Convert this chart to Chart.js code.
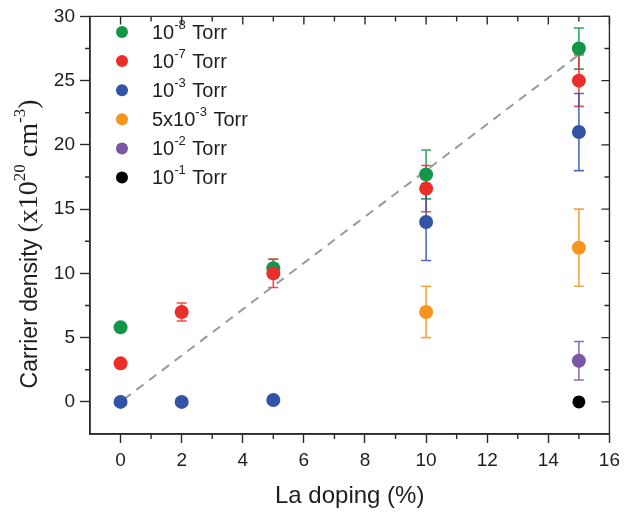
<!DOCTYPE html>
<html>
<head>
<meta charset="utf-8">
<script src="https://cdn.jsdelivr.net/npm/chart.js@4/dist/chart.umd.min.js"></script>
<style>
html,body{margin:0;padding:0;background:#fff;}
canvas{display:block;}
</style>
</head>
<body>
<canvas id="c" width="626" height="516"></canvas>
<script>
// ---- data ----
const dopingLevels = [0, 2, 5, 10, 15];
const torr1e8    = [5.8, null, 10.4, 17.7, 27.5];
const torr1e8Err = [0,   null, 0.7,  1.9,  1.6];
const torr1e7    = [3.0, 7.0, 10.0, 16.6, 25.0];
const torr1e7Err = [0,   0.7, 1.1,  1.8,  2.0];
const torr1e3    = [0.0, 0.0, 0.15, 14.0, 21.0];
const torr1e3Err = [0,   0,   0,    3.0,  3.0];
const torr5e3    = [null, null, null, 7.0, 12.0];
const torr5e3Err = [null, null, null, 2.0, 3.0];
const torr1e2    = [null, null, null, null, 3.2];
const torr1e2Err = [null, null, null, null, 1.5];
const torr1e1    = [null, null, null, null, 0.0];
const torr1e1Err = [null, null, null, null, 0];
const trendX = [0.1, 15.1];
const trendY = [0.18, 27.2];

const legendBase = ['10', '10', '10', '5x10', '10', '10'];
const legendExp  = ['-8', '-7', '-3', '-3', '-2', '-1'];
const seriesLabels = ['10⁻⁸ Torr', '10⁻⁷ Torr', '10⁻³ Torr', '5x10⁻³ Torr', '10⁻² Torr', '10⁻¹ Torr'];
const seriesColors = ['#13964a', '#ec2e2b', '#3353a6', '#f7941e', '#7b55a6', '#000000'];

const xTickValues = [0, 2, 4, 6, 8, 10, 12, 14, 16];
const xMinorTicks = [1, 3, 5, 7, 9, 11, 13, 15];
const yTickValues = [0, 5, 10, 15, 20, 25, 30];
const yMinorTicks = [2.5, 7.5, 12.5, 17.5, 22.5, 27.5];
const xRange = [-1, 16];
const yRange = [-2.5, 30];

const xTitle = 'La doping (%)';
const yTitleMain = 'Carrier density ';
const yTitleParts = [['(x10', 0], ['20', 1], [' cm', 0], ['-3', 1], [')', 0]];

// ---- build datasets ----
const allY = [torr1e8, torr1e7, torr1e3, torr5e3, torr1e2, torr1e1];
const allErr = [torr1e8Err, torr1e7Err, torr1e3Err, torr5e3Err, torr1e2Err, torr1e1Err];

function toPoints(ys, errs) {
  const pts = [];
  dopingLevels.forEach((x, i) => {
    if (ys[i] !== null && ys[i] !== undefined) pts.push({x: x, y: ys[i], err: errs[i] || 0});
  });
  return pts;
}

const datasets = allY.map((ys, k) => ({
  type: 'scatter',
  label: seriesLabels[k],
  data: toPoints(ys, allErr[k]),
  backgroundColor: seriesColors[k],
  borderColor: seriesColors[k],
  borderWidth: 0,
  pointRadius: k === 5 ? 6.5 : 7,
  pointHoverRadius: 7,
  order: 6 - k
}));
datasets.push({
  type: 'line',
  label: 'trend',
  data: trendX.map((x, i) => ({x: x, y: trendY[i]})),
  borderColor: '#9a9a9a',
  borderWidth: 2,
  borderDash: [9, 7],
  pointRadius: 0,
  fill: false,
  order: 20
});

const AX = '#2a2a2a';

const errorBars = {
  id: 'errorBars',
  beforeDatasetsDraw(chart) {
    const ctx = chart.ctx, xs = chart.scales.x, ys = chart.scales.y;
    ctx.save();
    chart.data.datasets.forEach((ds, k) => {
      if (ds.type !== 'scatter') return;
      ctx.strokeStyle = ds.borderColor;
      ctx.globalAlpha = 0.85;
      ctx.lineWidth = 1.6;
      ds.data.forEach(p => {
        if (!p.err) return;
        const px = xs.getPixelForValue(p.x);
        const t = ys.getPixelForValue(p.y + p.err);
        const b = ys.getPixelForValue(p.y - p.err);
        ctx.beginPath();
        ctx.moveTo(px, t); ctx.lineTo(px, b);
        ctx.moveTo(px - 5, t); ctx.lineTo(px + 5, t);
        ctx.moveTo(px - 5, b); ctx.lineTo(px + 5, b);
        ctx.stroke();
      });
    });
    ctx.restore();
  }
};

const frameTicks = {
  id: 'frameTicks',
  afterDraw(chart) {
    const ctx = chart.ctx, a = chart.chartArea, xs = chart.scales.x, ys = chart.scales.y;
    ctx.save();
    ctx.strokeStyle = AX;
    ctx.lineWidth = 1.4;
    ctx.beginPath();
    ctx.rect(a.left, a.top, a.right - a.left, a.bottom - a.top);
    ctx.stroke();
    ctx.beginPath();
    xMinorTicks.forEach(v => { const p = xs.getPixelForValue(v); ctx.moveTo(p, a.bottom); ctx.lineTo(p, a.bottom + 5); });
    yMinorTicks.forEach(v => { const p = ys.getPixelForValue(v); ctx.moveTo(a.left, p); ctx.lineTo(a.left - 5, p); });
    xTickValues.forEach(v => { const p = xs.getPixelForValue(v); ctx.moveTo(p, a.top); ctx.lineTo(p, a.top + 8); });
    xMinorTicks.forEach(v => { const p = xs.getPixelForValue(v); ctx.moveTo(p, a.top); ctx.lineTo(p, a.top + 5); });
    yTickValues.forEach(v => { const p = ys.getPixelForValue(v); ctx.moveTo(a.right, p); ctx.lineTo(a.right - 8, p); });
    yMinorTicks.forEach(v => { const p = ys.getPixelForValue(v); ctx.moveTo(a.right, p); ctx.lineTo(a.right - 5, p); });
    ctx.stroke();
    ctx.restore();
  }
};

const customLegend = {
  id: 'customLegend',
  afterDraw(chart) {
    const ctx = chart.ctx;
    ctx.save();
    const x0 = 122, y0 = 32, dy = 29.1;
    const big = '20px "Liberation Sans", Arial, sans-serif';
    const small = '13px "Liberation Sans", Arial, sans-serif';
    seriesColors.forEach((col, i) => {
      const y = y0 + i * dy;
      ctx.fillStyle = col;
      ctx.beginPath(); ctx.arc(x0, y, 6, 0, Math.PI * 2); ctx.fill();
      ctx.fillStyle = '#1e1e1e';
      ctx.textBaseline = 'middle';
      ctx.textAlign = 'left';
      ctx.font = big;
      let tx = 152;
      ctx.fillText(legendBase[i], tx, y + 1);
      tx += ctx.measureText(legendBase[i]).width;
      ctx.font = small;
      ctx.fillText(legendExp[i], tx, y - 7);
      tx += ctx.measureText(legendExp[i]).width + 1;
      ctx.font = big;
      ctx.fillText(' Torr', tx, y + 1);
    });
    ctx.restore();
  }
};

const yTitle = {
  id: 'yTitle',
  afterDraw(chart) {
    const ctx = chart.ctx;
    ctx.save();
    ctx.fillStyle = '#1e1e1e';
    ctx.textBaseline = 'alphabetic';
    ctx.textAlign = 'left';
    const sans = '23px "Liberation Sans", Arial, sans-serif';
    const serif = '28px "Liberation Serif", "Times New Roman", serif';
    const serifSup = '17px "Liberation Serif", "Times New Roman", serif';
    ctx.font = sans;
    let total = ctx.measureText(yTitleMain).width;
    yTitleParts.forEach(([t, sup]) => { ctx.font = sup ? serifSup : serif; total += ctx.measureText(t).width; });
    const cy = 244, bx = 37;
    ctx.translate(bx, cy);
    ctx.rotate(-Math.PI / 2);
    let x = -total / 2;
    ctx.font = sans;
    ctx.fillText(yTitleMain, x, 0);
    x += ctx.measureText(yTitleMain).width;
    yTitleParts.forEach(([t, sup]) => {
      ctx.font = sup ? serifSup : serif;
      ctx.fillText(t, x, sup ? -12 : 0);
      x += ctx.measureText(t).width;
    });
    ctx.restore();
  }
};

new Chart(document.getElementById('c'), {
  data: { datasets: datasets },
  options: {
    responsive: false,
    animation: false,
    devicePixelRatio: 1,
    layout: { padding: { top: 14, right: 13, left: 0, bottom: 0 } },
    plugins: {
      legend: { display: false },
      tooltip: { enabled: false },
      title: { display: false }
    },
    scales: {
      x: {
        type: 'linear',
        min: xRange[0], max: xRange[1],
        afterBuildTicks: s => { s.ticks = xTickValues.map(v => ({value: v})); },
        afterFit: s => { s.height = 82; },
        ticks: { color: '#1e1e1e', font: { size: 19, family: '"Liberation Sans", Arial, sans-serif' }, padding: 6, maxRotation: 0 },
        grid: { display: true, drawOnChartArea: false, drawTicks: true, tickLength: 9, tickWidth: 1.4, tickColor: AX },
        border: { display: true, color: AX, width: 1.4 },
        title: { display: true, text: xTitle, color: '#1e1e1e', font: { size: 24, family: '"Liberation Sans", Arial, sans-serif' }, padding: { top: 0, bottom: 5 } }
      },
      y: {
        type: 'linear',
        min: yRange[0], max: yRange[1],
        afterBuildTicks: s => { s.ticks = yTickValues.map(v => ({value: v})); },
        afterFit: s => { s.width = 90; },
        ticks: { color: '#1e1e1e', font: { size: 19, family: '"Liberation Sans", Arial, sans-serif' }, padding: 5 },
        grid: { display: true, drawOnChartArea: false, drawTicks: true, tickLength: 10, tickWidth: 1.4, tickColor: AX },
        border: { display: true, color: AX, width: 1.4 }
      }
    }
  },
  plugins: [errorBars, frameTicks, customLegend, yTitle]
});
</script>
</body>
</html>
